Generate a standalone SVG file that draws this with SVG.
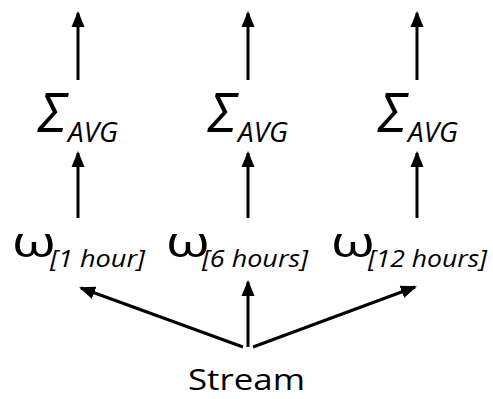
<svg xmlns="http://www.w3.org/2000/svg" width="493" height="399" viewBox="0 0 493 399">
  <style>
    .t { font-family: "Open Sans", "DejaVu Sans", sans-serif; fill: #000; }
    .sig { font-size: 55px; font-style: italic; }
    .avg { font-size: 28px; font-style: italic; }
    .om { font-size: 42px; }
    .win { font-size: 24px; font-style: italic; }
    .src { font-size: 30px; }
    .edge { stroke: #000; stroke-width: 3; fill: none; marker-end: url(#head); }
  </style>
  <defs>
    <marker id="head" markerUnits="userSpaceOnUse" markerWidth="16" markerHeight="16" viewBox="0 0 16 14" refX="14" refY="7" orient="auto">
      <path d="M0,0.5 L16,7 L0,13.5 Z" fill="#000"/>
    </marker>
  </defs>

  <!-- connectors -->
  <g id="connectors">
    <line class="edge" x1="78" y1="80" x2="78" y2="13"/>
    <line class="edge" x1="248" y1="80" x2="248" y2="13"/>
    <line class="edge" x1="417" y1="80" x2="417" y2="13"/>
    <line class="edge" x1="78" y1="218" x2="78" y2="153"/>
    <line class="edge" x1="248" y1="218" x2="248" y2="153"/>
    <line class="edge" x1="417" y1="218" x2="417" y2="153"/>
    <line class="edge" x1="243" y1="347" x2="81" y2="288"/>
    <line class="edge" x1="248" y1="347" x2="248" y2="282"/>
    <line class="edge" x1="253" y1="347" x2="415" y2="287"/>
  </g>

  <!-- aggregation nodes -->
  <g id="avg-1">
    <text class="t sig" x="38" y="132">Σ</text>
    <text class="t avg" x="68" y="142" textLength="50" lengthAdjust="spacingAndGlyphs">AVG</text>
  </g>
  <g id="avg-6">
    <text class="t sig" x="208" y="132">Σ</text>
    <text class="t avg" x="238" y="142" textLength="50" lengthAdjust="spacingAndGlyphs">AVG</text>
  </g>
  <g id="avg-12">
    <text class="t sig" x="378" y="132">Σ</text>
    <text class="t avg" x="408" y="142" textLength="50" lengthAdjust="spacingAndGlyphs">AVG</text>
  </g>

  <!-- window nodes (omega widened horizontally) -->
  <g id="win-1">
    <text class="t om" transform="translate(12,257) scale(1.35,1)">ω</text>
    <text class="t win" x="50" y="267" textLength="95" lengthAdjust="spacingAndGlyphs">[1 hour]</text>
  </g>
  <g id="win-6">
    <text class="t om" transform="translate(166,257) scale(1.35,1)">ω</text>
    <text class="t win" x="202" y="267" textLength="106" lengthAdjust="spacingAndGlyphs">[6 hours]</text>
  </g>
  <g id="win-12">
    <text class="t om" transform="translate(331,257) scale(1.35,1)">ω</text>
    <text class="t win" x="368" y="267" textLength="119" lengthAdjust="spacingAndGlyphs">[12 hours]</text>
  </g>

  <!-- source node -->
  <g id="stream">
    <text class="t src" x="188" y="390" textLength="117" lengthAdjust="spacingAndGlyphs">Stream</text>
  </g>
</svg>
